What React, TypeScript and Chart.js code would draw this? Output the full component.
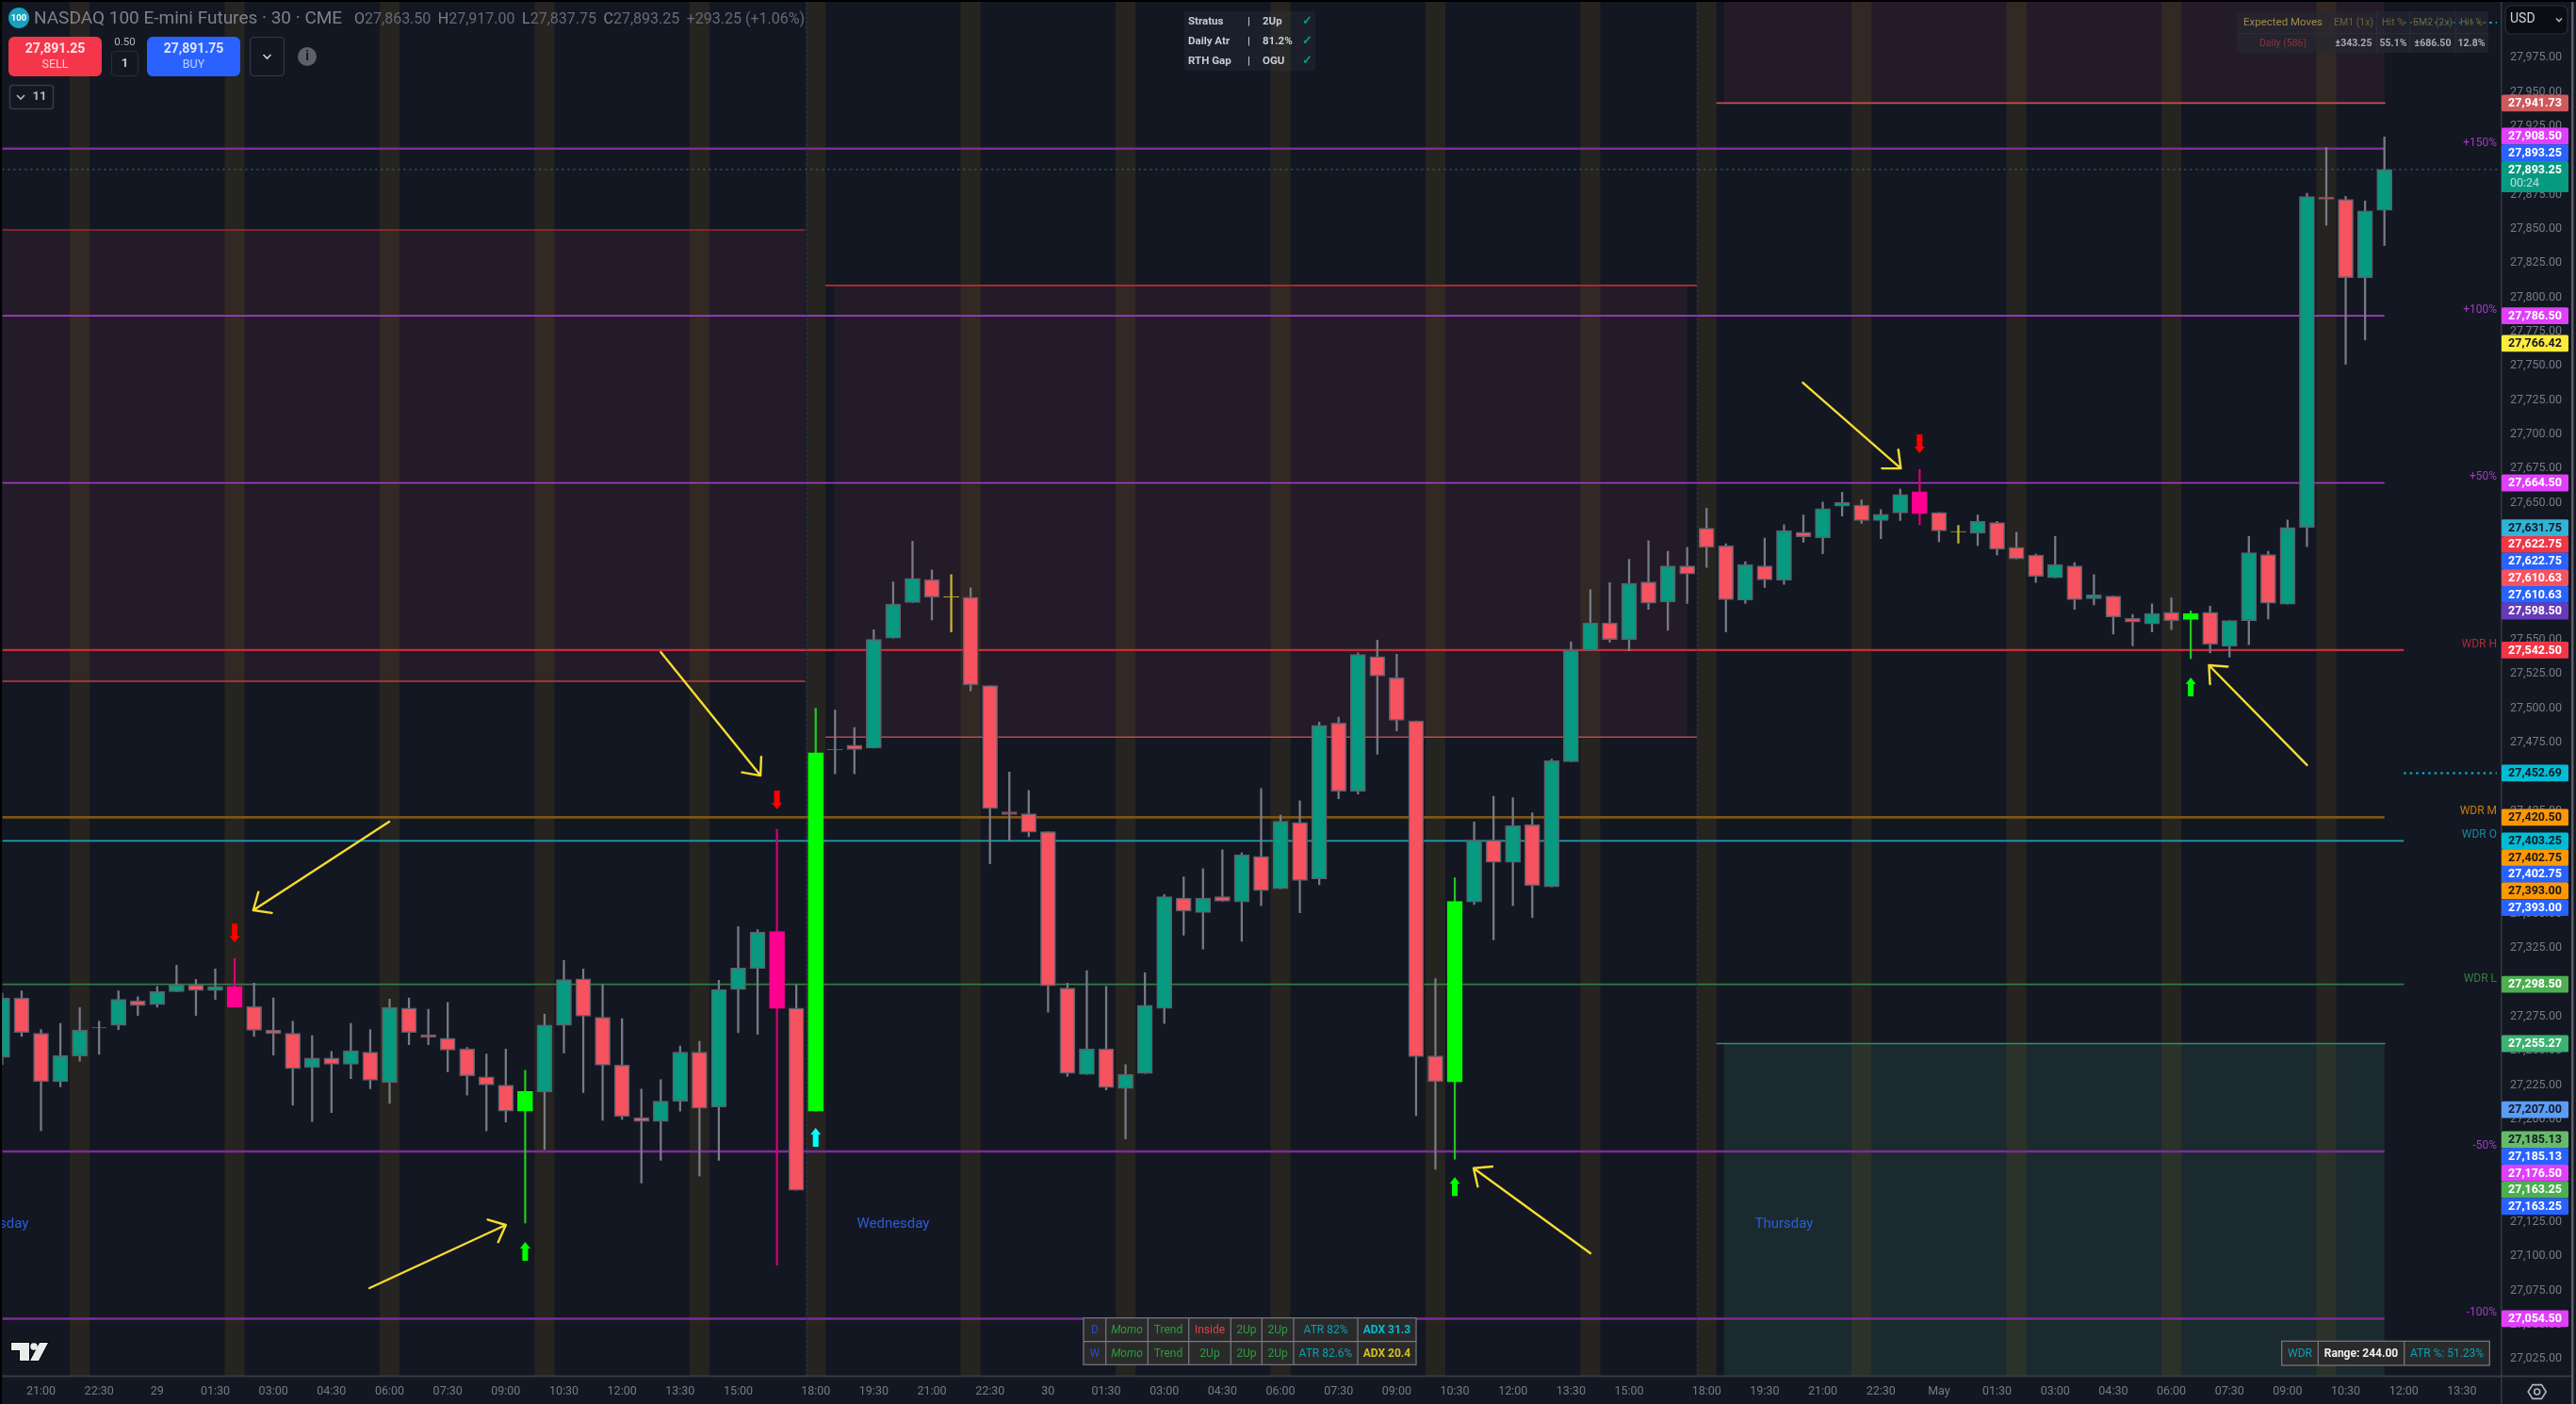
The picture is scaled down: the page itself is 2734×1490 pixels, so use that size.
import React, { useEffect, useRef } from "react";
import { Chart, registerables } from "chart.js";

Chart.register(...registerables);

const W = 2734;
const H = 1490;
const FONT = "Roboto, 'Liberation Sans', sans-serif";

// ---- OHLC, bar index -2 .. 121 (30 minute bars) ----
const firstBar = -2;
const opens = [
  27245.25, 27288.5, 27262.75, 27227.5, 27246.25, 27267, 27268.5, 27286.5, 27283.75, 27293.25,
  27298, 27294, 27297, 27282.25, 27265.25, 27262.75, 27237.75, 27244.75, 27240.25, 27249,
  27226.75, 27281.25, 27261.75, 27259.25, 27251.5, 27231, 27225, 27206, 27220, 27268.5,
  27302.5, 27274.5, 27239.5, 27201.25, 27198.5, 27213, 27249, 27209, 27294.75, 27310.25,
  27337, 27281.25, 27206, 27470, 27473, 27471, 27551.25, 27577.25, 27594, 27581.5,
  27581, 27516.5, 27424.5, 27423, 27410, 27295.75, 27232.75, 27251.5, 27222.5, 27233.5,
  27281, 27361.5, 27351, 27362.5, 27358.75, 27392, 27368.25, 27416.75, 27375.5, 27489.25,
  27439.5, 27537.75, 27522.25, 27490.75, 27246.25, 27227.25, 27358.75, 27403.75, 27387.5, 27415,
  27369.75, 27461, 27542.25, 27562.25, 27550.25, 27592.25, 27577.5, 27604, 27631.5, 27618.5,
  27579, 27604, 27593.5, 27628.5, 27624.25, 27647.5, 27648.25, 27637, 27642.5, 27658,
  27643, 27629, 27627.75, 27635.5, 27617.5, 27611.75, 27595.25, 27604, 27580, 27582,
  27565.5, 27561.5, 27570, 27564.75, 27570, 27545.25, 27564, 27612.25, 27576, 27632,
  27873.25, 27871.5, 27814.25, 27863.5,
];
const highs = [
  27292, 27293.75, 27265.5, 27270, 27281.5, 27271.5, 27293.75, 27289.5, 27297, 27312.5,
  27302.25, 27309.75, 27317.25, 27299.5, 27288.5, 27271.5, 27261, 27249.5, 27270, 27265.5,
  27287.75, 27288.5, 27280.25, 27285.25, 27252.5, 27247.75, 27251.25, 27235.75, 27276.75, 27316,
  27309.75, 27298.25, 27273.5, 27222, 27229, 27253.5, 27257, 27301.5, 27340.75, 27338.5,
  27411.75, 27298.25, 27500, 27498.75, 27486, 27557.25, 27592.25, 27622, 27601, 27597.5,
  27588, 27516.5, 27453.5, 27440, 27410, 27299.5, 27308.5, 27297, 27240, 27307,
  27364, 27377, 27383, 27396.75, 27394.5, 27441.5, 27422, 27432.5, 27490, 27493.5,
  27540.5, 27549.75, 27539.5, 27490.75, 27302.75, 27376.25, 27417, 27435.75, 27434.75, 27423.75,
  27463, 27548.5, 27586.5, 27591.75, 27608.75, 27622.25, 27614.5, 27617.5, 27646, 27620,
  27607, 27624.25, 27634, 27641, 27650.5, 27657.75, 27652, 27645, 27660, 27674.5,
  27643, 27633.5, 27641, 27636.5, 27628.5, 27612.75, 27625.5, 27606.25, 27597.5, 27582,
  27568.5, 27576.25, 27580.5, 27571, 27574.5, 27564, 27625.5, 27614.5, 27637.5, 27876,
  27909.25, 27873.75, 27870.25, 27917,
];
const lows = [
  27240, 27260.5, 27191.75, 27223.75, 27242.5, 27247.5, 27265.5, 27275.75, 27281.75, 27293.25,
  27275.75, 27287.5, 27281.75, 27260.5, 27247, 27210.25, 27198.5, 27205, 27229.75, 27222.25,
  27211.75, 27254.5, 27254.5, 27234.75, 27217.75, 27191.5, 27198, 27124.25, 27178, 27248.5,
  27219.5, 27199.25, 27200, 27153.5, 27170, 27206, 27158.5, 27170, 27263.25, 27262,
  27093.5, 27148.25, 27206, 27452.25, 27452.25, 27471, 27551.25, 27577.25, 27564.5, 27555.75,
  27512.75, 27386.5, 27403.25, 27406.25, 27278.25, 27231.5, 27232.75, 27221.5, 27185.75, 27233.5,
  27270, 27334.5, 27324.25, 27359.25, 27330, 27356, 27368.25, 27350.75, 27371.25, 27434,
  27437.5, 27466.5, 27483.5, 27202.75, 27163.5, 27171, 27356.75, 27331, 27356, 27347.25,
  27369.75, 27461, 27542.25, 27548.25, 27542, 27572.25, 27557, 27576.5, 27602.75, 27555.75,
  27576.5, 27588.25, 27590.5, 27621.25, 27612.75, 27640.25, 27635, 27623.75, 27637, 27634,
  27621.5, 27620.5, 27618.75, 27612, 27609, 27591.75, 27595.25, 27572.25, 27575.5, 27554.25,
  27545.5, 27555.75, 27557.5, 27536.25, 27540.5, 27537.25, 27546.5, 27565.25, 27576, 27618,
  27852.5, 27751, 27769, 27837.75,
];
const closes = [
  27288.5, 27263.5, 27227.5, 27246.5, 27265.25, 27266.75, 27287.5, 27283, 27293.25, 27298,
  27294, 27297, 27281.75, 27265, 27262.5, 27237, 27244.75, 27240.25, 27250, 27228.5,
  27281.5, 27263.5, 27259.75, 27250.5, 27231.75, 27225, 27206, 27220.25, 27268.75, 27302,
  27275.25, 27239.5, 27202, 27198.5, 27213.25, 27249, 27208, 27294.75, 27310.5, 27336.75,
  27281, 27148.25, 27467.5, 27469.75, 27470, 27550.25, 27576, 27594.75, 27581.25, 27581.25,
  27517, 27426.75, 27422.5, 27409.5, 27297.5, 27233.5, 27251.5, 27223.25, 27232.75, 27283.25,
  27362.5, 27352, 27361.5, 27359.25, 27393, 27367, 27417.5, 27374.25, 27487.5, 27439.5,
  27539.25, 27523.5, 27491.25, 27245.75, 27227.5, 27359, 27403.75, 27387.5, 27414.25, 27370.75,
  27461.75, 27542.25, 27562.25, 27550.25, 27591.25, 27576.75, 27604, 27598, 27617.5, 27579.25,
  27605, 27593.75, 27629.75, 27625.25, 27645.75, 27650.25, 27637, 27641.5, 27656, 27642,
  27629.5, 27628.75, 27636.5, 27616, 27609, 27596.25, 27605, 27579.25, 27582.75, 27566.5,
  27563, 27569.25, 27564, 27569.25, 27546.75, 27564, 27613.5, 27576.75, 27632, 27873.5,
  27871.5, 27814.25, 27863, 27893.25,
];

const magentaBars = [10, 38, 97];
const limeBars = [25, 40, 73, 111];
const yellowDojis = [47, 99];
const grayDojis = [3, 41];

// ---- axis ----
const timeTickBars = [
  0, 3, 6, 9, 12, 15, 18, 21, 24, 27, 30, 33, 36, 40, 43, 46, 49, 52, 55, 58, 61, 64, 67, 70, 73, 76, 79, 82,
  86, 89, 92, 95, 98, 101, 104, 107, 110, 113, 116, 119, 122, 125,
];
const timeTickLabels = [
  "21:00", "22:30", "29", "01:30", "03:00", "04:30", "06:00", "07:30", "09:00", "10:30", "12:00", "13:30", "15:00", "18:00",
  "19:30", "21:00", "22:30", "30", "01:30", "03:00", "04:30", "06:00", "07:30", "09:00", "10:30", "12:00", "13:30", "15:00",
  "18:00", "19:30", "21:00", "22:30", "May", "01:30", "03:00", "04:30", "06:00", "07:30", "09:00", "10:30", "12:00", "13:30",
];
const xMin = -2;
const xMax = 127;
const yMax = 28015.6;
const yMin = 27012.85;

// ---- session bands and separators ----
const sessionBandBars = [2, 10, 18, 26, 34, 40, 48, 56, 64, 72, 80, 86, 94, 102, 110, 118];
const sessionBreaks = [39.54, 85.52];

// ---- horizontal levels ----
const levelPrices = [27908.5, 27786.5, 27664.5, 27176.5, 27054.5, 27542.5, 27420.5, 27403.25, 27298.5];
const levelTags = ["+150%", "+100%", "+50%", "-50%", "-100%", "WDR H", "WDR M", "WDR O", "WDR L"];
const levelEnds = [121, 121, 121, 121, 121, 122, 121, 122, 122];
const levelColors = ["#7d2c97", "#a53cc2", "#ad3ecb", "#7d2c97", "#7d2c97", "#c22e3c", "#7a5518", "#1d9fb4", "#327d3e"];
const levelWidths = [2.6, 1.6, 1.6, 2.6, 2.6, 2.2, 2.8, 1.6, 1.8];
const levelTagColors = ["#a13cc0", "#a13cc0", "#a13cc0", "#a13cc0", "#a13cc0", "#a62d38", "#c77d0a", "#168aa0", "#347f3c"];

// ---- zones: [start bar, end bar, upper price, lower price] ----
const redZoneA = [-2, 39.45, 27849.1, 27519.7];
const redZoneB = [40.95, 85.0, 27808.6, 27479.0];
const redZoneC = [86.9, 121, yMax, 27941.73];
const greenZone = [86.9, 121, 27255.27, yMin];

const zoneEdgePrices = [27849.1, 27519.7, 27808.6, 27479.0, 27941.73, 27255.27];
const zoneEdgeStarts = [-2, -2, 40.5, 40.5, 86.5, 86.5];
const zoneEdgeEnds = [39.45, 39.45, 85.5, 85.5, 121.05, 121.05];
const zoneEdgeColors = ["#a02a2c", "#bf3d40", "#a82a2e", "#b84a4c", "#c65050", "#2f8f6a"];
const zoneEdgeWidths = [1.5, 1.5, 2.2, 1.5, 1.6, 1.6];

// ---- dotted lines ----
const lastPrice = 27893.25;
const cyanDotPrices = [27452.69, 28000.5];

// ---- signal arrows ----
const sellSignalBars = [10, 38, 97];
const sellSignalPrices = [27336, 27433, 27693];
const buySignalBars = [25, 73, 111];
const buySignalPrices = [27103.6, 27151, 27515.6];
const cyanSignalBars = [40];
const cyanSignalPrices = [27186.9];

// ---- hand drawn arrows: tail bar, tail price, tip bar, tip price ----
const handArrowTailBars = [17.98, 16.96, 32, 80, 90.97, 117];
const handArrowTailPrices = [27417.2, 27076.8, 27541, 27102.2, 27737.7, 27458.6];
const handArrowTipBars = [10.96, 24, 37.15, 73.97, 96.03, 111.94];
const handArrowTipPrices = [27352.6, 27122.9, 27450.9, 27164.3, 27675.1, 27531.4];

// ---- weekdays ----
const dayNames = ["Tuesday", "Wednesday", "Thursday"];
const dayBars = [-2, 44, 90];
const dayLabelPrice = 27123.5;

// ---- price tags on the axis ----
const tagPrices = [
  27941.73, 27908.5, 27893.25, 27893.25, 27786.5, 27766.42, 27664.5, 27631.75, 27622.75, 27622.75, 27610.63, 27610.63,
  27598.5, 27542.5, 27452.69, 27420.5, 27403.25, 27402.75, 27402.75, 27393, 27393, 27298.5, 27255.27, 27207, 27185.13,
  27185.13, 27176.5, 27163.25, 27163.25, 27054.5,
];
const tagFills = [
  "#cf5a5e", "#e040fb", "#2962ff", "#089981", "#e040fb", "#ffeb3b", "#e040fb", "#2fb3d6", "#f23645", "#2962ff", "#f7525f", "#2962ff",
  "#673ab7", "#f23645", "#00bcd4", "#ff9800", "#00bcd4", "#ff9800", "#2962ff", "#ff9800", "#2962ff", "#4caf50", "#3cb371", "#5b9cf6", "#66bb6a",
  "#2962ff", "#e040fb", "#4caf50", "#2962ff", "#e040fb",
];
const tagInks = [
  "#fff", "#fff", "#fff", "#fff", "#fff", "#131722", "#fff", "#131722", "#fff", "#fff", "#fff", "#fff",
  "#fff", "#fff", "#131722", "#131722", "#131722", "#131722", "#fff", "#131722", "#fff", "#fff", "#fff", "#131722", "#131722",
  "#fff", "#fff", "#fff", "#fff", "#fff",
];
const lastTagIndex = 3;
const countdownText = "00:24";

// ---- panels ----
const statusRows = [
  ["Stratus", "2Up"],
  ["Daily Atr", "81.2%"],
  ["RTH Gap", "OGU"],
];
const emHead = ["Expected Moves", "EM1 (1x)", "Hit %", "EM2 (2x)", "Hit %"];
const emRow = ["Daily (586)", "±343.25", "55.1%", "±686.50", "12.8%"];
const dailyRow = ["D", "Momo", "Trend", "Inside", "2Up", "2Up", "ATR 82%", "ADX 31.3"];
const weeklyRow = ["W", "Momo", "Trend", "2Up", "2Up", "2Up", "ATR 82.6%", "ADX 20.4"];
const wdrRow = ["WDR", "Range: 244.00", "ATR %: 51.23%"];
const headerTitle = "NASDAQ 100 E-mini Futures · 30 · CME";
const headerOHLC = [
  ["O", "27,863.50"],
  ["H", "27,917.00"],
  ["L", "27,837.75"],
  ["C", "27,893.25"],
];
const headerChange = "+293.25 (+1.06%)";
const sellPrice = "27,891.25";
const buyPrice = "27,891.75";

// ---- helpers ----
const barIndexes = opens.map((_, k) => k + firstBar);
const has = (list: number[], v: number) => list.includes(v);
const fmt = (v: number) =>
  v.toLocaleString("en-US", { minimumFractionDigits: 2, maximumFractionDigits: 2 });

function bodyFill(i: number, k: number) {
  if (has(magentaBars, i)) return "#ff0090";
  if (has(limeBars, i)) return "#00ff00";
  if (has(yellowDojis, i)) return "#c9b52e";
  if (has(grayDojis, i)) return "#787b86";
  return closes[k] >= opens[k] ? "#089981" : "#f7525f";
}
function bodyEdge(i: number) {
  if (has(magentaBars, i)) return "#ff0090";
  if (has(limeBars, i)) return "#00ff00";
  if (has(yellowDojis, i)) return "#c9b52e";
  return "#5d606b";
}
function wickColor(i: number) {
  if (has(magentaBars, i)) return "#d3007a";
  if (has(limeBars, i)) return "#24c424";
  if (has(yellowDojis, i)) return "#c9b52e";
  return "#787b86";
}

function roundRect(c: CanvasRenderingContext2D, x: number, y: number, w: number, h: number, r: number) {
  c.beginPath();
  c.roundRect(x, y, w, h, r);
}
function text(
  c: CanvasRenderingContext2D,
  s: string,
  x: number,
  y: number,
  font: string,
  color: string,
  align: CanvasTextAlign = "left"
) {
  c.font = `${font} ${FONT}`;
  c.fillStyle = color;
  c.textAlign = align;
  c.textBaseline = "middle";
  c.fillText(s, x, y);
}
function chevron(c: CanvasRenderingContext2D, x: number, y: number, color: string, s = 4) {
  c.strokeStyle = color;
  c.lineWidth = 1.6;
  c.beginPath();
  c.moveTo(x - s, y - s / 2);
  c.lineTo(x, y + s / 2);
  c.lineTo(x + s, y - s / 2);
  c.stroke();
}

function drawPriceTags(chart: any, c: CanvasRenderingContext2D) {
  const y = chart.scales.y;
  const h = 17.7;
  const pos = tagPrices.map((p) => y.getPixelForValue(p));
  // the last price stays put; the tags above it move up, the rest move down
  for (let k = lastTagIndex - 1; k >= 0; k--) {
    const limit = k === lastTagIndex - 1 ? pos[lastTagIndex] - h : pos[k + 1] - h;
    pos[k] = Math.min(pos[k], limit);
  }
  for (let k = lastTagIndex + 1; k < pos.length; k++) {
    const limit = k === lastTagIndex + 1 ? pos[k - 1] + 33 : pos[k - 1] + h;
    pos[k] = Math.max(pos[k], limit);
  }
  tagPrices.forEach((p, k) => {
    const cy = pos[k];
    const isLast = k === lastTagIndex;
    c.fillStyle = tagFills[k];
    roundRect(c, 2655, cy - 8.9, 71, isLast ? 33 : 17.8, 1.5);
    c.fill();
    text(c, fmt(p), 2690.5, cy + 0.5, "bold 12.5px", tagInks[k], "center");
    if (isLast) text(c, countdownText, 2664, cy + 15, "12.5px", "#b8e0d6");
  });
}

function drawHeader(c: CanvasRenderingContext2D) {
  c.fillStyle = "#17a2bd";
  c.beginPath();
  c.arc(20, 19, 11, 0, Math.PI * 2);
  c.fill();
  text(c, "100", 20, 19.5, "bold 9.5px", "#ffffff", "center");
  text(c, headerTitle, 36, 20, "19px", "#7d818c");
  let x = 376;
  headerOHLC.forEach(([k, v]) => {
    text(c, k, x, 20.5, "16px", "#7d818c");
    const kw = c.measureText(k).width;
    text(c, v, x + kw, 20.5, "16px", "#666a76");
    x += kw + c.measureText(v).width + 7.5;
  });
  text(c, headerChange, x, 20.5, "16px", "#666a76");

  c.fillStyle = "#f5364a";
  roundRect(c, 9, 39, 99, 42, 6);
  c.fill();
  text(c, sellPrice, 58.5, 52, "bold 14px", "#ffe3e6", "center");
  text(c, "SELL", 58.5, 69, "12.5px", "#ffc9cf", "center");
  text(c, "0.50", 132.5, 45, "11.5px", "#b2b5be", "center");
  c.strokeStyle = "#2a2e39";
  c.lineWidth = 1.2;
  roundRect(c, 118.5, 54.5, 28, 26, 4);
  c.stroke();
  text(c, "1", 132.5, 68, "bold 13px", "#c8cad1", "center");
  c.fillStyle = "#2962ff";
  roundRect(c, 156, 39, 99, 42, 6);
  c.fill();
  text(c, buyPrice, 205.5, 52, "bold 14px", "#dbe5ff", "center");
  text(c, "BUY", 205.5, 69, "12.5px", "#c0d0ff", "center");
  c.strokeStyle = "#363a45";
  roundRect(c, 265.5, 39.5, 36, 41, 4);
  c.stroke();
  chevron(c, 283.5, 60, "#d1d4dc");
  c.fillStyle = "#5d606b";
  c.beginPath();
  c.arc(326, 60, 10, 0, Math.PI * 2);
  c.fill();
  text(c, "i", 326, 60.5, "bold 14px", "#131722", "center");
  c.strokeStyle = "#363a45";
  roundRect(c, 10.5, 90.5, 46, 25, 3);
  c.stroke();
  chevron(c, 22, 103, "#b2b5be");
  text(c, "11", 42, 103, "bold 13px", "#b2b5be", "center");
}

function drawStatus(c: CanvasRenderingContext2D) {
  c.fillStyle = "rgba(60,64,78,0.22)";
  c.fillRect(1257, 12, 139, 63);
  statusRows.forEach(([a, b], k) => {
    const y = 23 + k * 21;
    text(c, a, 1261, y, "bold 11.5px", "#c9ccd3");
    text(c, "|", 1325.5, y, "bold 11.5px", "#c9ccd3", "center");
    text(c, b, 1340, y, "bold 11.5px", "#c9ccd3");
    text(c, "✓", 1387, y, "bold 13px", "#089981", "center");
  });
}

function drawExpectedMoves(c: CanvasRenderingContext2D) {
  c.fillStyle = "rgba(38,41,50,0.62)";
  c.fillRect(2374, 12, 267, 44);
  c.strokeStyle = "#2a2e39";
  c.lineWidth = 1;
  c.beginPath();
  c.moveTo(2374, 35.5);
  c.lineTo(2641, 35.5);
  [2473.5, 2522.5, 2557.5, 2606.5].forEach((x) => {
    c.moveTo(x, 12);
    c.lineTo(x, 56);
  });
  c.stroke();
  const cols = [2423, 2498, 2540, 2582, 2623];
  emHead.forEach((s, k) =>
    text(c, s, cols[k], 24, k === 0 ? "11.5px" : "10.5px", k === 0 ? "#a08b48" : "#6f6338", "center")
  );
  emRow.forEach((s, k) =>
    text(c, s, cols[k], 46, k === 0 ? "10.5px" : "bold 10.5px", k === 0 ? "#86383a" : "#a7aab0", "center")
  );
}

function drawGridTable(
  c: CanvasRenderingContext2D,
  x0: number,
  x1: number,
  ys: number[],
  seps: number[],
  rows: string[][],
  colors: string[][],
  fonts: string[]
) {
  c.fillStyle = "#2a2a2a";
  c.fillRect(x0, ys[0], x1 - x0, ys[ys.length - 1] - ys[0]);
  c.strokeStyle = "#787b86";
  c.lineWidth = 1.2;
  c.strokeRect(x0, ys[0], x1 - x0, ys[ys.length - 1] - ys[0]);
  c.beginPath();
  ys.slice(1, -1).forEach((y) => {
    c.moveTo(x0, y);
    c.lineTo(x1, y);
  });
  seps.forEach((x) => {
    c.moveTo(x, ys[0]);
    c.lineTo(x, ys[ys.length - 1]);
  });
  c.stroke();
  const edges = [x0, ...seps, x1];
  rows.forEach((row, r) => {
    const cy = (ys[r] + ys[r + 1]) / 2 + 0.5;
    row.forEach((s, k) => {
      text(c, s, (edges[k] + edges[k + 1]) / 2, cy, fonts[k], colors[r][k], "center");
    });
  });
}

function drawPanels(c: CanvasRenderingContext2D) {
  const g = "#2e9c3f";
  const t = "#0a9fb5";
  drawGridTable(
    c,
    1150,
    1503,
    [1398.7, 1423.7, 1448.3],
    [1173.7, 1218.3, 1261.7, 1306.3, 1339.3, 1373, 1441],
    [dailyRow, weeklyRow],
    [
      ["#2350c8", g, g, "#d9404d", g, g, t, "#00bcd4"],
      ["#2350c8", g, g, g, g, g, t, "#d6c020"],
    ],
    ["12px", "italic 12px", "12px", "12px", "12px", "12px", "12px", "bold 12px"]
  );
  drawGridTable(
    c,
    2421.7,
    2642.3,
    [1423.3, 1449],
    [2460.3, 2551.7],
    [wdrRow],
    [[t, "#f0f0f0", t]],
    ["12px", "bold 12px", "12px"]
  );
}

function drawLogo(c: CanvasRenderingContext2D) {
  c.fillStyle = "#e9ecea";
  c.strokeStyle = "#000";
  c.lineWidth = 2;
  c.beginPath();
  c.moveTo(12, 1425);
  c.lineTo(31, 1425);
  c.lineTo(31, 1444);
  c.lineTo(21, 1444);
  c.lineTo(21, 1433);
  c.lineTo(12, 1433);
  c.closePath();
  c.moveTo(42, 1425);
  c.lineTo(51, 1425);
  c.lineTo(41, 1444);
  c.lineTo(32, 1444);
  c.closePath();
  c.stroke();
  c.fill();
  c.beginPath();
  c.arc(36, 1429, 3.8, 0, Math.PI * 2);
  c.fill();
}

function drawSignal(c: CanvasRenderingContext2D, x: number, y: number, dir: number, color: string) {
  c.fillStyle = color;
  c.beginPath();
  c.moveTo(x, y - dir * 10);
  c.lineTo(x + 5.5, y - dir * 3);
  c.lineTo(x + 3, y - dir * 3);
  c.lineTo(x + 3, y + dir * 10);
  c.lineTo(x - 3, y + dir * 10);
  c.lineTo(x - 3, y - dir * 3);
  c.lineTo(x - 5.5, y - dir * 3);
  c.closePath();
  c.fill();
}

const overlayPlugin = {
  id: "terminalOverlay",
  beforeDraw(chart: any) {
    const c: CanvasRenderingContext2D = chart.ctx;
    c.save();
    c.fillStyle = "#000";
    c.fillRect(0, 0, W, H);
    c.fillStyle = "#131722";
    c.fillRect(2, 2, W - 2, H - 2);
    c.restore();
  },
  beforeDatasetsDraw(chart: any) {
    const c: CanvasRenderingContext2D = chart.ctx;
    const { x, y } = chart.scales;
    c.save();
    const zone = (z: number[], fill: string) => {
      const l = x.getPixelForValue(z[0]);
      const r = x.getPixelForValue(z[1]);
      const t = y.getPixelForValue(z[2]);
      const b = y.getPixelForValue(z[3]);
      c.fillStyle = fill;
      c.fillRect(l, t, r - l, b - t);
    };
    const red = "rgba(231,85,121,0.08)";
    zone(redZoneA, red);
    zone(redZoneB, red);
    zone(redZoneC, red);
    zone(greenZone, "rgba(65,156,130,0.15)");
    c.restore();
  },
  afterDatasetsDraw(chart: any) {
    const c: CanvasRenderingContext2D = chart.ctx;
    const { x, y } = chart.scales;
    c.save();

    // signal arrows
    sellSignalBars.forEach((b, k) =>
      drawSignal(c, x.getPixelForValue(b), y.getPixelForValue(sellSignalPrices[k]), -1, "#ff0000")
    );
    buySignalBars.forEach((b, k) =>
      drawSignal(c, x.getPixelForValue(b), y.getPixelForValue(buySignalPrices[k]), 1, "#00ff00")
    );
    cyanSignalBars.forEach((b, k) =>
      drawSignal(c, x.getPixelForValue(b), y.getPixelForValue(cyanSignalPrices[k]), 1, "#00ffff")
    );

    // hand drawn arrows
    c.strokeStyle = "#f5dc32";
    c.lineWidth = 2.4;
    c.lineCap = "round";
    handArrowTailBars.forEach((b, k) => {
      const x0 = x.getPixelForValue(b);
      const y0 = y.getPixelForValue(handArrowTailPrices[k]);
      const x1 = x.getPixelForValue(handArrowTipBars[k]);
      const y1 = y.getPixelForValue(handArrowTipPrices[k]);
      const a = Math.atan2(y0 - y1, x0 - x1);
      c.beginPath();
      c.moveTo(x0, y0);
      c.lineTo(x1, y1);
      [-0.72, 0.72].forEach((d) => {
        c.moveTo(x1 + Math.cos(a + d) * 20, y1 + Math.sin(a + d) * 20);
        c.lineTo(x1, y1);
      });
      c.stroke();
    });
    c.lineCap = "butt";

    // weekday labels
    c.save();
    c.beginPath();
    c.rect(2, 0, W, H);
    c.clip();
    dayNames.forEach((d, k) =>
      text(c, d, x.getPixelForValue(dayBars[k]), y.getPixelForValue(dayLabelPrice), "15px", "#2d5bd7", "center")
    );
    c.restore();

    // level tags
    levelTags.forEach((t, k) =>
      text(c, t, 2650, y.getPixelForValue(levelPrices[k]) - 6, "12px", levelTagColors[k], "right")
    );

    // frame
    c.fillStyle = "#363a45";
    c.fillRect(2654, 2, 1.5, H);
    c.fillRect(2, 1459.5, 2727, 2);
    c.fillStyle = "#5a5d66";
    c.fillRect(2729, 2, 2.5, H);

    drawPriceTags(chart, c);

    // currency button
    c.fillStyle = "#0b0d12";
    roundRect(c, 2659, 6, 66, 30, 6);
    c.fill();
    c.strokeStyle = "#2a2e39";
    c.lineWidth = 1.2;
    c.stroke();
    text(c, "USD", 2664, 20.5, "14px", "#d1d4dc");
    chevron(c, 2716, 21, "#b2b5be", 3);

    // settings hexagon
    c.strokeStyle = "#b2b5be";
    c.lineWidth = 1.6;
    c.beginPath();
    for (let k = 0; k < 6; k++) {
      const a = (Math.PI / 3) * k;
      const px = 2692.7 + Math.cos(a) * 9.5;
      const py = 1477 + Math.sin(a) * 8.5;
      if (k === 0) c.moveTo(px, py);
      else c.lineTo(px, py);
    }
    c.closePath();
    c.stroke();
    c.beginPath();
    c.arc(2692.7, 1477, 3, 0, Math.PI * 2);
    c.stroke();

    drawHeader(c);
    drawStatus(c);
    drawExpectedMoves(c);
    drawPanels(c);
    drawLogo(c);
    c.restore();
  },
};

function hLine(price: number, from: number, to: number, color: string, width: number, order: number, dash?: number[]) {
  return {
    type: "line",
    data: [
      { x: from, y: price },
      { x: to, y: price },
    ],
    borderColor: color,
    borderWidth: width,
    borderDash: dash || [],
    pointRadius: 0,
    tension: 0,
    order,
  };
}

export default function App() {
  const ref = useRef<HTMLCanvasElement | null>(null);

  useEffect(() => {
    document.body.style.margin = "0";
    document.body.style.background = "#000";
    const datasets: any[] = [];

    datasets.push({
      type: "bar",
      data: sessionBandBars.map((b) => ({ x: b, y: [yMin, yMax] })),
      backgroundColor: "rgba(89,72,30,0.28)",
      barThickness: 20.5,
      order: 100,
    });

    zoneEdgePrices.forEach((p, k) =>
      datasets.push(hLine(p, zoneEdgeStarts[k], zoneEdgeEnds[k], zoneEdgeColors[k], zoneEdgeWidths[k], 60))
    );
    levelPrices.forEach((p, k) =>
      datasets.push(hLine(p, xMin, levelEnds[k], levelColors[k], levelWidths[k], 50))
    );
    datasets.push(hLine(lastPrice, xMin, xMax, "#0b7d6b", 1.4, 40, [2, 4]));
    datasets.push(hLine(cyanDotPrices[0], 122, 126.8, "#00bcd4", 2, 40, [2.5, 4]));
    datasets.push(hLine(cyanDotPrices[1], 122, 126.8, "#00bcd4", 2, 40, [2.5, 4]));
    sessionBreaks.forEach((b) =>
      datasets.push({
        type: "line",
        data: [
          { x: b, y: yMin },
          { x: b, y: yMax },
        ],
        borderColor: "#1a3578",
        borderWidth: 1.2,
        borderDash: [2, 3],
        pointRadius: 0,
        tension: 0,
        order: 45,
      })
    );

    datasets.push({
      type: "bar",
      label: "wick",
      data: barIndexes.map((i, k) => ({ x: i, y: [lows[k], highs[k]] })),
      backgroundColor: barIndexes.map(wickColor),
      barThickness: 1.6,
      order: 2,
    });
    datasets.push({
      type: "bar",
      label: "body",
      data: barIndexes.map((i, k) => ({ x: i, y: [opens[k], closes[k]] })),
      backgroundColor: barIndexes.map((i, k) => bodyFill(i, k)),
      borderColor: barIndexes.map(bodyEdge),
      borderWidth: 1.5,
      borderSkipped: false,
      barThickness: 16,
      order: 1,
    });

    const chart = new Chart(ref.current as HTMLCanvasElement, {
      type: "bar",
      data: { datasets },
      plugins: [overlayPlugin],
      options: {
        animation: false,
        responsive: false,
        devicePixelRatio: 1,
        parsing: undefined,
        layout: { padding: { left: 2.4, top: 2, right: 0, bottom: 0 } },
        datasets: { bar: { grouped: false } },
        plugins: { legend: { display: false }, tooltip: { enabled: false } },
        scales: {
          x: {
            type: "linear",
            offset: false,
            min: xMin,
            max: xMax,
            grid: { display: false, offset: false, drawTicks: false },
            border: { display: false },
            afterBuildTicks(s: any) {
              s.ticks = timeTickBars.map((v) => ({ value: v }));
            },
            afterFit(s: any) {
              s.height = H - 1460;
              s.paddingLeft = 0;
              s.paddingRight = 0;
            },
            ticks: {
              autoSkip: false,
              maxRotation: 0,
              color: "#787b86",
              padding: 9,
              font: { family: FONT, size: 12.5 },
              callback: (v: any) => {
                const k = timeTickBars.indexOf(Number(v));
                return k >= 0 ? timeTickLabels[k] : "";
              },
            },
          },
          y: {
            type: "linear",
            position: "right",
            min: yMin,
            max: yMax,
            grid: { display: false, drawTicks: false },
            border: { display: false },
            afterFit(s: any) {
              s.width = W - 2654;
              s.paddingTop = 0;
              s.paddingBottom = 0;
            },
            ticks: {
              stepSize: 25,
              autoSkip: false,
              includeBounds: false,
              color: "#787b86",
              padding: 10,
              font: { family: FONT, size: 12.5 },
              callback: (v: any) => fmt(Number(v)),
            },
          },
        },
      },
    } as any);

    return () => chart.destroy();
  }, []);

  return <canvas ref={ref} width={W} height={H} style={{ display: "block", width: W, height: H }} />;
}
